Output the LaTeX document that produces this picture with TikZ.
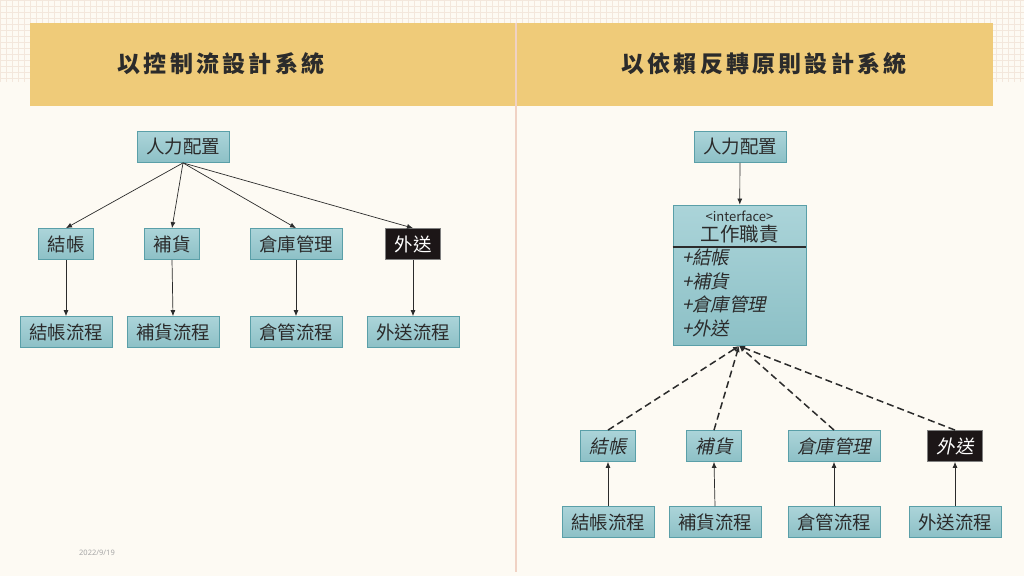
\documentclass[tikz,border=0pt]{standalone}
\usepackage{fontspec}
\usetikzlibrary{arrows.meta}
\setmainfont{Noto Sans}
\newfontfamily\cjk{Noto Sans CJK TC}
\newfontfamily\cjkit[FakeSlant=0.2]{Noto Sans CJK TC}
\newfontfamily\cjktitle[LetterSpace=14]{Noto Sans CJK TC}
\definecolor{canvas}{HTML}{FDFAF3}
\definecolor{gridline}{HTML}{F3E7DC}
\definecolor{banner}{HTML}{EFCB79}
\definecolor{divider}{HTML}{F0D2C4}
\definecolor{boxtop}{HTML}{ABD4D9}
\definecolor{boxbot}{HTML}{8CC0C6}
\definecolor{boxline}{HTML}{5A9FA8}
\definecolor{ink}{HTML}{2B2B2B}
\definecolor{night}{HTML}{1C1617}
\tikzset{
  role/.style={
    draw = boxline,
    line width = 0.8pt,
    top color = boxtop,
    bottom color = boxbot,
    minimum height = 31pt,
    inner xsep = 9pt,
    inner ysep = 0pt,
    text = ink,
    font = \cjk\fontsize{18.5}{18.5}\selectfont
  },
  slanted/.style={
    role,
    font = \cjkit\fontsize{18.5}{18.5}\selectfont
  },
  dark/.style={
    draw = gray,
    top color = night,
    bottom color = night,
    text = white
  },
  flow/.style={
    draw = ink,
    line width = 0.7pt,
    -{Latex[length=6pt,width=5pt]}
  },
  realize/.style={
    flow,
    line width = 1.5pt,
    dash pattern = on 7pt off 4pt
  },
  title/.style={
    text = ink,
    font = \cjktitle\bfseries\fontsize{23}{23}\selectfont
  },
}

\begin{document}
\begin{tikzpicture}[x=1pt,y=-1pt]
\useasboundingbox (0,0) rectangle (1024,576);
\fill[canvas] (0,0) rectangle (1024,576);
% grid paper at the top
\foreach \x in {0,6,...,1020}
  \draw[gridline, line width=0.4pt] (\x,0) -- (\x,82);
\foreach \y in {0,6,...,78}
  \draw[gridline, line width=0.4pt] (0,\y) -- (1024,\y);
\fill[banner] (30,23) rectangle (515,106);
\fill[banner] (517,23) rectangle (993,106);
\draw[divider, line width=1.5pt] (516,23) -- (516,572);
\node[title] (ltitle) at (221,64) {以控制流設計系統};
\node[title] (rtitle) at (764,64) {以依賴反轉原則設計系統};

% control flow
\node[role] (lhr) at (183,147) {人力配置};
\node[role] (lcheck) at (66,244) {結帳};
\node[role] (lstock) at (172,244) {補貨};
\node[role] (lstore) at (296,244) {倉庫管理};
\node[role, dark] (lout) at (413,244) {外送};
\node[role] (lcheckflow) at (66,332) {結帳流程};
\node[role] (lstockflow) at (173,332) {補貨流程};
\node[role] (lstoreflow) at (296,332) {倉管流程};
\node[role] (loutflow) at (413,332) {外送流程};
\foreach \n in {lcheck,lstock,lstore,lout}{
  \draw[flow] (lhr.south) -- (\n.north);
  \draw[flow] (\n.south) -- (\n flow.north); }

% dependency inversion
\node[role] (rhr) at (740,147) {人力配置};
\node[role, minimum width=133pt, minimum height=140pt] (duty) at (739.5,275) {};
\node[text=ink, font=\cjk\fontsize{13}{13}\selectfont] (dutytag) at (739.5,216) {<interface>};
\node[text=ink, font=\cjk\fontsize{19.5}{19.5}\selectfont] (dutyname) at (739.5,234) {工作職責};
\coordinate (rule) at (0,247);
\draw[ink, line width=1.2pt] (duty.west |- rule) -- (duty.east |- rule);
\foreach \y/\t in {257/結帳, 281/補貨, 304/倉庫管理, 328/外送}
  \node[anchor=west, inner sep=0pt, text=ink, font=\cjkit\fontsize{18.5}{18.5}\selectfont] (m\y) at (682,\y) {+\t};
\draw[flow] (rhr) -- (duty);
\coordinate (hub) at (739,346);
\node[slanted] (rcheck) at (608,446) {結帳};
\node[slanted] (rstock) at (714,446) {補貨};
\node[slanted] (rstore) at (834,446) {倉庫管理};
\node[slanted, dark] (rout) at (955,446) {外送};
\node[role] (rcheckflow) at (608,522) {結帳流程};
\node[role] (rstockflow) at (715,522) {補貨流程};
\node[role] (rstoreflow) at (834,522) {倉管流程};
\node[role] (routflow) at (955,522) {外送流程};
\foreach \n in {rcheck,rstock,rstore,rout}{
  \draw[realize] (\n.north) -- (hub);
  \draw[flow] (\n flow.north) -- (\n.south); }

\node[text=gray!70, font=\fontsize{7.5}{7.5}\selectfont] (date) at (97,553) {2022/9/19};
\end{tikzpicture}
\end{document}
